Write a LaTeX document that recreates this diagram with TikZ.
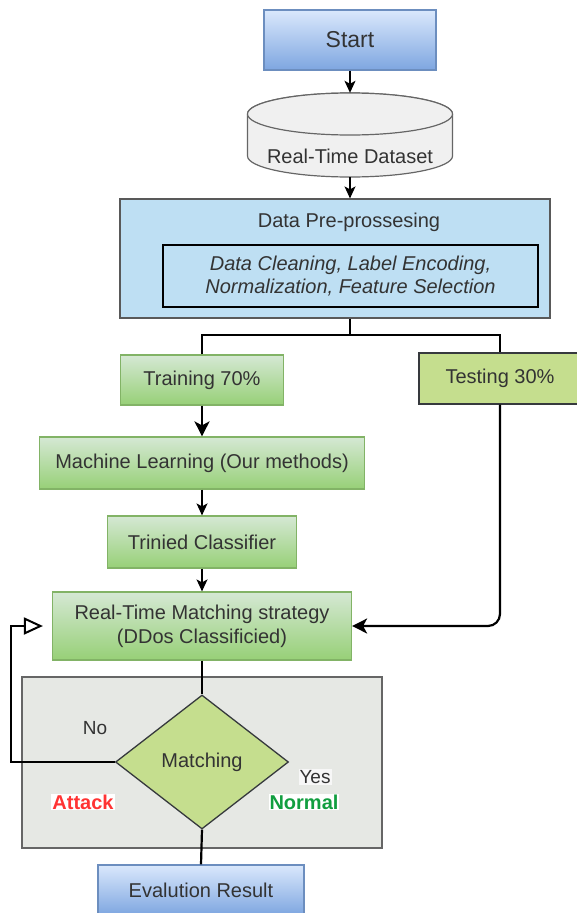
\documentclass[tikz,border=0pt]{standalone}
\usepackage{fontspec}
\setmainfont{Liberation Sans}
\usetikzlibrary{shapes.geometric,arrows.meta}
\definecolor{txt}{HTML}{333333}
\definecolor{blueTop}{HTML}{DAE8FC}
\definecolor{blueBot}{HTML}{7EA6E0}
\definecolor{blueLine}{HTML}{6C8EBF}
\definecolor{greenTop}{HTML}{D5E8D4}
\definecolor{greenBot}{HTML}{97D077}
\definecolor{greenLine}{HTML}{82B366}
\definecolor{lime}{HTML}{C5DE8E}
\definecolor{darkLine}{HTML}{36393D}
\definecolor{preFill}{HTML}{BEDFF3}
\definecolor{greyFill}{HTML}{E6E8E4}
\definecolor{cylFill}{HTML}{F0F0F0}
\definecolor{attackRed}{HTML}{FF3333}
\definecolor{normalGreen}{HTML}{119E3F}
\tikzset{
  bluebox/.style={draw=blueLine, line width=1.2pt, top color=blueTop, bottom color=blueBot, inner sep=0pt},
  greenbox/.style={draw=greenLine, line width=1.2pt, top color=greenTop, bottom color=greenBot, inner sep=0pt, align=center},
  limebox/.style={draw=darkLine, line width=1.3pt, fill=lime, inner sep=0pt},
  thinflow/.style={line width=1.3pt, -{Stealth[length=12pt,width=11pt,inset=3pt]}},
  thickflow/.style={line width=2.2pt, -{Stealth[length=15pt,width=15pt,inset=4pt]}},
  thickline/.style={line width=2.2pt},
  lbl/.style={inner sep=1pt}
}
\begin{document}
\begin{tikzpicture}[x=1pt,y=-1pt,font=\fontsize{20}{24}\selectfont,text=txt]
\fill[white] (0,0) rectangle (577,913);
\useasboundingbox (0,0) rectangle (577,913);
\clip (0,0) rectangle (577,913);

% grey container
\node[draw=black!60, line width=1.3pt, fill=greyFill, minimum width=360, minimum height=171, inner sep=0] (panel) at (202,762.5) {};

% start
\node[bluebox, minimum width=172, minimum height=60, font=\fontsize{23}{27}\selectfont] (start) at (350,40) {Start};

% cylinder
\node[minimum width=205, minimum height=84, inner sep=0] (cyl) at (350,135) {};
\draw[draw=black!60, line width=1.2pt, fill=cylFill]
  (247.5,114) -- (247.5,156) arc[start angle=180, end angle=360, x radius=102.5, y radius=-21]
  -- (452.5,114) arc[start angle=0, end angle=180, x radius=102.5, y radius=-21] -- cycle;
\draw[draw=black!60, line width=1.2pt, fill=cylFill]
  (350,114) ellipse[x radius=102.5, y radius=21];
\node (cyltext) at (350,156) {Real-Time Dataset};

% preprocessing
\node[draw=black!65, line width=1.2pt, fill=preFill, minimum width=430, minimum height=119, inner sep=0] (pre) at (335,258.5) {};
\node (pretitle) at (349,222) {Data Pre-prossesing};
\node[draw=black, line width=1.2pt, minimum width=375, minimum height=62, inner sep=0, align=center, font=\fontsize{20}{23.5}\selectfont\itshape] (inner) at (350.5,276) {Data Cleaning, Label Encoding,\\Normalization, Feature Selection};

% training / testing
\node[greenbox, minimum width=163, minimum height=50] (train) at (202,380) {Training 70\%};
\node[limebox, minimum width=162, minimum height=51] (test) at (500,378.5) {Testing 30\%};

\node[greenbox, minimum width=325, minimum height=52] (ml) at (202,463) {Machine Learning (Our methods)};
\node[greenbox, minimum width=189, minimum height=52] (clf) at (202,542) {Trinied Classifier};
\node[greenbox, minimum width=299, minimum height=68, font=\fontsize{20}{24}\selectfont] (match) at (202,626) {Real-Time Matching strategy\\(DDos Classificied)};

% decision
\node[limebox, diamond, aspect=1.291, minimum width=173, minimum height=134] (dec) at (202,762) {\raisebox{3pt}{Matching}};

\node[bluebox, minimum width=206, minimum height=50] (eval) at (201,890) {Evalution Result};

% labels
\node[lbl, font=\fontsize{19}{22}\selectfont] (no) at (95,728) {No};
\node[lbl, fill=white!97!black, font=\fontsize{19}{22}\selectfont] (yes) at (315,777) {Yes};
\node[lbl, fill=white, text=attackRed, font=\fontsize{20}{24}\selectfont\bfseries] (attack) at (83,802) {Attack};
\node[lbl, fill=white, text=normalGreen, font=\fontsize{20}{24}\selectfont\bfseries] (normal) at (304,802) {Normal};

% connectors
\draw[thinflow] (start.south) -- (cyl.north);
\draw[thinflow] (cyl.south) -- (cyl.south |- pre.north);
\coordinate (split) at (350,335);
\draw[thickline] (split |- pre.south) -- (split);
\draw[thickline] (train.north) |- (split) -| (test.north);
\draw[thickflow] (train.south) -- (ml.north);
\draw[thinflow] (ml.south) -- (clf.north);
\draw[thinflow] (clf.south) -- (match.north);
\draw[thickflow, rounded corners=12pt] (test.south) |- (match.east);
\draw[thickline] (match.south) -- (dec.north);
\draw[thickline] (dec.south) -- (eval.north);
\coordinate (loop) at (11,762);
\draw[line width=2.2pt, -{Triangle[open,length=19pt,width=17pt,line width=2pt]}, shorten >=9pt]
  (dec.west) -- (loop) |- (match.west);
\end{tikzpicture}
\end{document}
